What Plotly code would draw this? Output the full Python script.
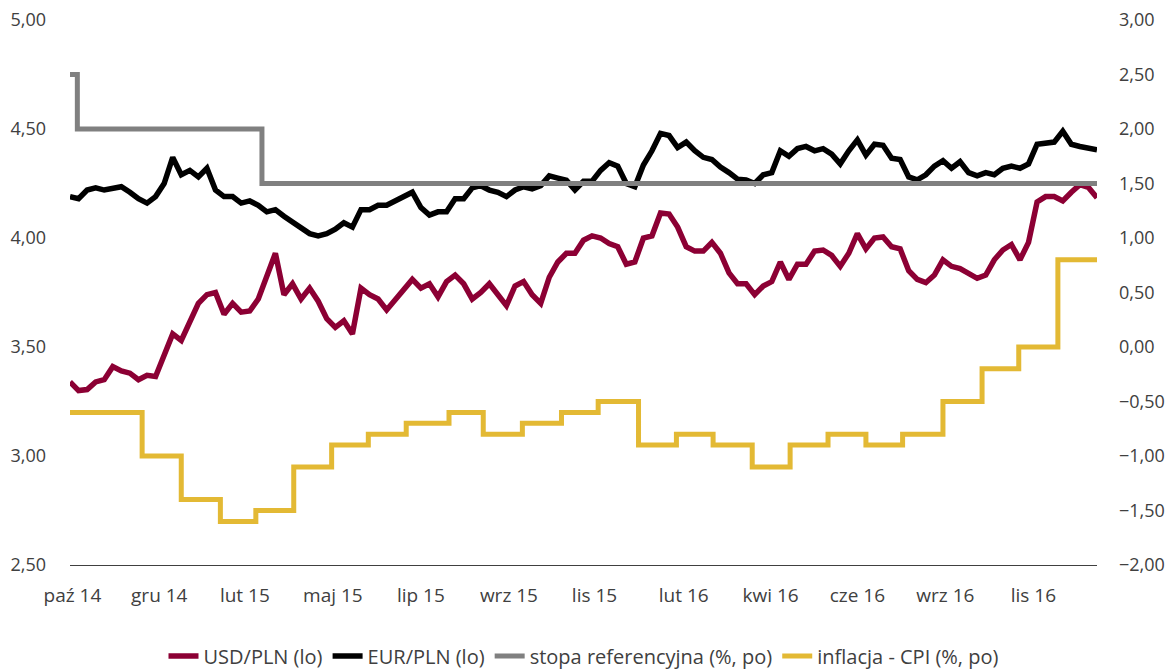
import pandas as pd
import plotly.graph_objects as go

# weekly FX readings, 2014-10-01 .. 2017-01-18
fx_dates = pd.date_range('2014-10-01', periods=121, freq='7D')

usd_pln = [3.34, 3.30, 3.305, 3.34, 3.35, 3.41, 3.39, 3.38, 3.35, 3.37,
           3.365, 3.47, 3.56, 3.53, 3.61, 3.70, 3.74, 3.75, 3.65, 3.70,
           3.66, 3.665, 3.72, 3.83, 3.93, 3.74, 3.79, 3.72, 3.77, 3.71,
           3.63, 3.59, 3.62, 3.56, 3.77, 3.74, 3.72, 3.67, 3.72, 3.76,
           3.81, 3.77, 3.79, 3.73, 3.80, 3.83, 3.79, 3.72, 3.75, 3.79,
           3.74, 3.69, 3.78, 3.80, 3.74, 3.70, 3.82, 3.89, 3.93, 3.93,
           3.99, 4.01, 4.00, 3.975, 3.96, 3.88, 3.89, 4.00, 4.01, 4.115,
           4.11, 4.05, 3.96, 3.94, 3.94, 3.98, 3.93, 3.84, 3.79, 3.79,
           3.74, 3.78, 3.80, 3.89, 3.81, 3.88, 3.88, 3.94, 3.945, 3.92,
           3.87, 3.93, 4.02, 3.95, 4.00, 4.005, 3.96, 3.95, 3.85, 3.81,
           3.795, 3.83, 3.90, 3.87, 3.86, 3.835, 3.815, 3.83, 3.90, 3.945,
           3.97, 3.90, 3.98, 4.165, 4.19, 4.19, 4.17, 4.21, 4.245, 4.232,
           4.185]

eur_pln = [4.19, 4.18, 4.22, 4.23, 4.22, 4.225, 4.235, 4.21, 4.18, 4.16,
           4.19, 4.25, 4.37, 4.29, 4.31, 4.28, 4.32, 4.22, 4.19, 4.19,
           4.16, 4.17, 4.15, 4.12, 4.13, 4.10, 4.075, 4.05, 4.02, 4.01,
           4.02, 4.04, 4.07, 4.05, 4.13, 4.13, 4.15, 4.15, 4.17, 4.185,
           4.21, 4.14, 4.105, 4.12, 4.12, 4.18, 4.18, 4.23, 4.24, 4.22,
           4.21, 4.19, 4.22, 4.235, 4.225, 4.24, 4.285, 4.275, 4.265, 4.22,
           4.26, 4.26, 4.31, 4.345, 4.33, 4.25, 4.235, 4.335, 4.40, 4.48,
           4.47, 4.415, 4.44, 4.40, 4.37, 4.36, 4.325, 4.30, 4.27, 4.266,
           4.25, 4.29, 4.30, 4.40, 4.375, 4.41, 4.42, 4.40, 4.41, 4.385,
           4.34, 4.40, 4.45, 4.38, 4.43, 4.425, 4.366, 4.36, 4.28, 4.267,
           4.29, 4.33, 4.355, 4.32, 4.35, 4.30, 4.285, 4.30, 4.29, 4.32,
           4.33, 4.32, 4.34, 4.43, 4.435, 4.44, 4.49, 4.43, 4.42, 4.41,
           4.405]

# reference rate (step changes)
rate_dates = ['2014-10-01', '2014-10-07', '2015-03-07', '2017-01-18']
rate = [2.5, 2.0, 1.5, 1.5]

# CPI y/y (step changes)
cpi_dates = ['2014-10-01', '2014-11-29', '2014-12-31', '2015-02-01', '2015-03-02',
             '2015-04-02', '2015-05-03', '2015-06-02', '2015-07-03', '2015-08-07',
             '2015-09-04', '2015-10-06', '2015-11-07', '2015-12-07', '2016-01-09',
             '2016-02-09', '2016-03-10', '2016-04-11', '2016-05-12', '2016-06-12',
             '2016-07-13', '2016-08-12', '2016-09-14', '2016-10-16', '2016-11-15',
             '2016-12-17', '2017-01-18']
cpi = [-0.6, -1.0, -1.4, -1.6, -1.5, -1.1, -0.9, -0.8, -0.7, -0.6,
       -0.8, -0.7, -0.6, -0.5, -0.9, -0.8, -0.9, -1.1, -0.9, -0.8,
       -0.9, -0.8, -0.5, -0.2, 0.0, 0.8, 0.8]

tick_dates = ['2014-10-03', '2014-12-13', '2015-02-21', '2015-05-04', '2015-07-15',
              '2015-09-25', '2015-12-04', '2016-02-15', '2016-04-26', '2016-07-06',
              '2016-09-16', '2016-11-27']
tick_labels = ['paź 14', 'gru 14', 'lut 15', 'maj 15', 'lip 15', 'wrz 15',
               'lis 15', 'lut 16', 'kwi 16', 'cze 16', 'wrz 16', 'lis 16']

fig = go.Figure()
fig.add_trace(go.Scatter(x=fx_dates, y=usd_pln, name='USD/PLN (lo)', mode='lines',
                         line=dict(color='#8C0034', width=5.5)))
fig.add_trace(go.Scatter(x=fx_dates, y=eur_pln, name='EUR/PLN (lo)', mode='lines',
                         line=dict(color='#000000', width=5.5)))
fig.add_trace(go.Scatter(x=rate_dates, y=rate, name='stopa referencyjna (%, po)', mode='lines',
                         line=dict(color='#808080', width=5, shape='hv'), yaxis='y2'))
fig.add_trace(go.Scatter(x=cpi_dates, y=cpi, name='inflacja - CPI (%, po)', mode='lines',
                         line=dict(color='#E3B934', width=5, shape='hv'), yaxis='y2'))

family = 'Open Sans, Noto Sans, sans-serif'
grey = '#404040'

# page body has an 8px margin, margins below allow for it
fig.update_layout(
    width=1173, height=670,
    margin=dict(l=62, r=84, t=12, b=113),
    plot_bgcolor='white', paper_bgcolor='white',
    separators=', ',
    font=dict(family=family, size=18, color=grey),
    showlegend=True,
    legend=dict(orientation='h', x=0.5, xanchor='center', yref='container',
                y=0.033, yanchor='middle',
                font=dict(family=family, size=20, color=grey), traceorder='normal'),
    xaxis=dict(type='date', range=['2014-10-01', '2017-01-18'],
               tickvals=tick_dates, ticktext=tick_labels,
               tickfont=dict(size=19), automargin=False,
               showgrid=False, zeroline=False, showline=True,
               linecolor='#404040', linewidth=1, ticks='', ticklabelstandoff=13),
    yaxis=dict(range=[2.5, 5.0], dtick=0.5, tickformat='.2f', automargin=False,
               ticklabeloverflow='allow',
               showgrid=False, zeroline=False, showline=False,
               ticks='', ticklabelstandoff=23),
    yaxis2=dict(range=[-2.0, 3.0], dtick=0.5, tickformat='.2f', overlaying='y', side='right',
                automargin=False, ticklabeloverflow='allow',
                showgrid=False, zeroline=False, showline=False,
                ticks='', ticklabelstandoff=21),
    hovermode='x unified',
)

fig.write_html('out.html')
